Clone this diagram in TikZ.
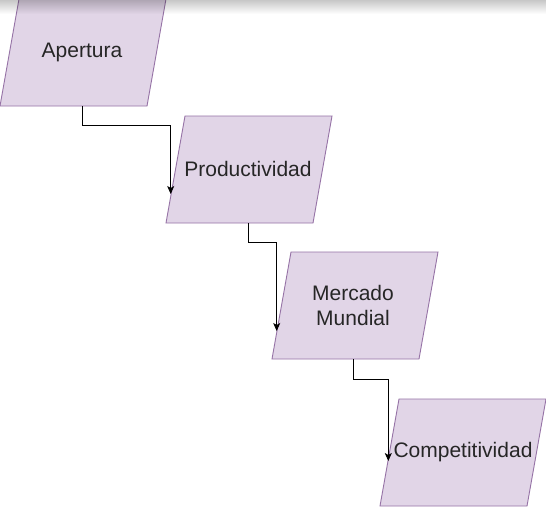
\documentclass[tikz,border=0pt]{standalone}
\usepackage{fontspec}
\setmainfont{Liberation Sans}
\usetikzlibrary{arrows.meta,fadings}
\definecolor{pfill}{HTML}{E1D5E7}
\definecolor{pline}{HTML}{9673A6}
\begin{document}
\begin{tikzpicture}[x=1pt,y=-1pt,
  para/.style={draw=pline,fill=pfill,line width=0.9pt},
  lbl/.style={text=black!85,font=\fontsize{21}{25}\selectfont,align=center,inner sep=0pt},
  conn/.style={draw=black,line width=0.8pt,-{Stealth[length=8pt,width=7pt,inset=2pt]}}]
\useasboundingbox (0,0) rectangle (546,507);
\clip (0,0) rectangle (546,507);
\fill[white] (0,0) rectangle (546,507);
% corners (bottom-left) of the parallelograms
\coordinate (s1bl) at (0,106);
\coordinate (s2bl) at (166,223);
\coordinate (s3bl) at (272,359);
\coordinate (s4bl) at (380,506);
\path[para] (s1bl) -- ++(147,0) -- ++(19,-107) -- ++(-147,0) -- cycle;
\path[para] (s2bl) -- ++(147,0) -- ++(19,-107) -- ++(-147,0) -- cycle;
\path[para] (s3bl) -- ++(147,0) -- ++(19,-107) -- ++(-147,0) -- cycle;
\path[para] (s4bl) -- ++(147,0) -- ++(19,-107) -- ++(-147,0) -- cycle;
% labels
\node[lbl] (a) at (82,52) {Apertura};
\node[lbl] (b) at (248,169) {Productividad};
\node[lbl] (c) at (353,305.5) {Mercado\\Mundial};
\node[lbl] (d) at (463,452.5) {Competitividad};
% connector ends
\coordinate (bin) at (170.7,194);
\coordinate (cin) at (276.7,331);
\coordinate (din) at (388.3,461);
\draw[conn] (a |- s1bl) -- ++(0,19) -| (bin);
\draw[conn] (b |- s2bl) -- ++(0,19) -| (cin);
\draw[conn] (c |- s3bl) -- ++(0,20) -| (din);
% top shadow
\fill[black,opacity=0.22,path fading=south] (0,0) rectangle (546,14);
\end{tikzpicture}
\end{document}
